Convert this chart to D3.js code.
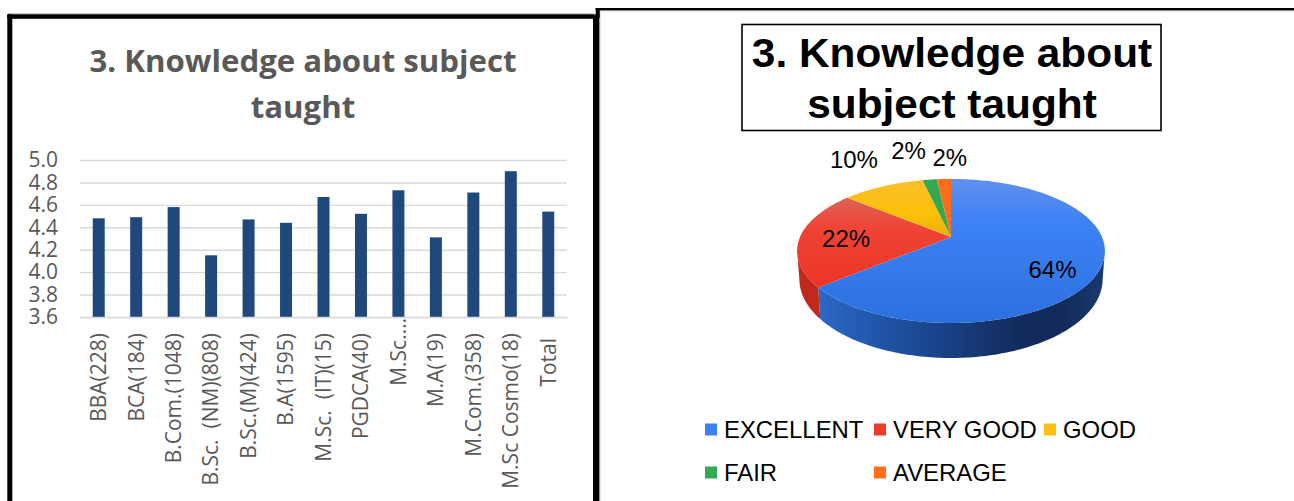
<!DOCTYPE html>
<html>
<head>
<meta charset="utf-8">
<script src="https://d3js.org/d3.v7.min.js"></script>
<style>
  html, body { margin: 0; padding: 0; background: #fff; }
  svg { display: block; }
</style>
</head>
<body>
<div id="chart"></div>
<script>
// bar chart data
var courses = ["BBA(228)", "BCA(184)", "B.Com.(1048)", "B.Sc.\u00a0 (NM)(808)", "B.Sc.(M)(424)", "B.A(1595)",
  "M.Sc.\u00a0 (IT)(15)", "PGDCA(40)", "M.Sc.…", "M.A(19)", "M.Com.(358)", "M.Sc Cosmo(18)", "Total"];
var scores = [4.48, 4.49, 4.58, 4.15, 4.47, 4.44, 4.67, 4.52, 4.73, 4.31, 4.71, 4.90, 4.54];
var scoreTicks = [3.6, 3.8, 4.0, 4.2, 4.4, 4.6, 4.8, 5.0];

// pie chart data
var ratings = ["EXCELLENT", "VERY GOOD", "GOOD", "FAIR", "AVERAGE"];
var shares = [64, 22, 10.4, 1.8, 1.8];

var ratingColors = ["#3b80f5", "#ef3b2d", "#fcc010", "#34a853", "#ff6d1a"];
var wallColors = ["url(#blueWall)", "#c02a1c", "#c99a08", "#26803f", "#c85410"];
var topFills = ["url(#blueTop)", "url(#redTop)", "url(#yellowTop)", "#34a853", "#ff6d1a"];

var barFont = "'Open Sans', sans-serif";
var pieFont = "'Liberation Sans', Arial, sans-serif";

var svg = d3.select("#chart").append("svg")
    .attr("width", 1294)
    .attr("height", 501);

var defs = svg.append("defs");

function gradient(id, horizontal, stops) {
  var g = defs.append("linearGradient")
    .attr("id", id)
    .attr("gradientUnits", "objectBoundingBox")
    .attr("x1", 0).attr("y1", 0)
    .attr("x2", horizontal ? 1 : 0).attr("y2", horizontal ? 0 : 1);
  stops.forEach(function(s) {
    g.append("stop").attr("offset", s[0]).attr("stop-color", s[1]);
  });
}
gradient("blueTop", false, [[0, "#5f90ee"], [0.3, "#3d82f6"], [1, "#2c70de"]]);
gradient("redTop", false, [[0, "#dd6358"], [0.35, "#ef4335"], [1, "#ec3524"]]);
gradient("yellowTop", false, [[0, "#fbbf2c"], [0.6, "#fdbf06"], [1, "#e8ae0c"]]);
gradient("blueWall", true, [[0, "#2b68c6"], [0.35, "#1b4994"], [0.7, "#122b5c"], [0.85, "#122b5c"], [1, "#1a3a70"]]);

// frames around the two panels
function bar(x0, y0, w, h, color) {
  svg.append("rect").attr("x", x0).attr("y", y0).attr("width", w).attr("height", h).attr("fill", color);
}
bar(8, 13.5, 586, 1.2, "#8c8c8c");
bar(7.3, 14.4, 586, 4.4, "#000");
bar(7.3, 14.4, 5, 487, "#000");
bar(593, 14.4, 6.2, 487, "#000");
bar(599.2, 11, 1, 490, "#8c8c8c");
bar(595.7, 8, 699, 2.4, "#000");
bar(595.7, 8, 4, 10, "#000");
bar(600, 10.4, 694, 0.8, "#8c8c8c");

// ---- bar chart ----
var x = d3.scaleBand()
  .domain(courses)
  .range([80, 567])
  .paddingInner(0.68)
  .paddingOuter(0.34);
var y = d3.scaleLinear()
  .domain([3.6, 5.0])
  .range([317, 160]);

var grid = svg.append("g")
  .attr("transform", "translate(80,0)")
  .call(d3.axisLeft(y).tickValues(scoreTicks).tickFormat(d3.format(".1f")).tickSize(-487).tickPadding(22));
grid.select(".domain").remove();
grid.selectAll("line").attr("stroke", "#d9d9d9").attr("stroke-width", 1.4);
grid.selectAll("text")
  .style("font-family", barFont)
  .style("font-size", "21px")
  .attr("fill", "#595959");

svg.selectAll(".bar")
  .data(scores)
  .enter().append("rect")
    .attr("class", "bar")
    .attr("x", function(d, i) { return x(courses[i]); })
    .attr("y", function(d) { return y(d); })
    .attr("width", x.bandwidth())
    .attr("height", function(d) { return y(3.6) - y(d); })
    .attr("fill", "#1f497d");

var xAxis = svg.append("g")
  .attr("transform", "translate(0,317)")
  .call(d3.axisBottom(x).tickSize(0));
xAxis.select(".domain").attr("stroke", "#d9d9d9").attr("stroke-width", 1.4);
xAxis.selectAll("text")
  .style("font-family", barFont)
  .style("font-size", "21px")
  .attr("fill", "#595959")
  .attr("text-anchor", "end")
  .attr("dy", "0.35em")
  .attr("x", 0)
  .attr("y", 0)
  .attr("transform", function(d) {
    var top = 16;
    if (d == "M.Sc.…") top = 1;
    if (d == "Total") top = 21;
    return "translate(0," + top + ") rotate(-90)";
  });

svg.append("text").attr("x", 303).attr("y", 72)
  .attr("text-anchor", "middle")
  .style("font-family", barFont).style("font-weight", "bold").style("font-size", "31.2px")
  .attr("fill", "#595959")
  .text("3. Knowledge about subject");
svg.append("text").attr("x", 303).attr("y", 118)
  .attr("text-anchor", "middle")
  .style("font-family", barFont).style("font-weight", "bold").style("font-size", "31.2px")
  .attr("fill", "#595959")
  .text("taught");

// ---- pie chart ----
svg.append("rect").attr("x", 742).attr("y", 24.5).attr("width", 419).attr("height", 106)
  .attr("fill", "#fff").attr("stroke", "#000").attr("stroke-width", 1.6);
svg.append("text").attr("transform", "translate(952,67) scale(1.06,1)")
  .attr("text-anchor", "middle")
  .style("font-family", pieFont).style("font-weight", "bold").style("font-size", "40px")
  .text("3. Knowledge about");
svg.append("text").attr("transform", "translate(952,118) scale(1.06,1)")
  .attr("text-anchor", "middle")
  .style("font-family", pieFont).style("font-weight", "bold").style("font-size", "40px")
  .text("subject taught");

// tilted disc: the apex sits above the middle of the ellipse
var pieX = 951, pieY = 237, pieWide = 151, pieFar = 69.3, tilt = -0.194, pieDepth = 35;

function rim(angle, r) {
  var u = r * Math.sin(angle), v = -r * Math.cos(angle), w = 1 + tilt * v;
  return [pieX + pieWide * u / w, pieY + pieFar * v / w];
}

var slices = d3.pie().sort(null).value(function(d) { return d; })(shares);
var line = d3.line();
var step = Math.PI / 180;

function arcPoints(a, b) {
  return d3.range(a, b, step).concat([b]).map(function(t) { return rim(t, 1); });
}

// the lower edge of the wall is a slightly smaller, flatter copy of the rim
function lowerEdge(p) {
  var v = (p[1] - pieY) / 86;
  return [pieX + (p[0] - pieX) * 0.985, p[1] + pieDepth * (0.77 + 0.23 * v)];
}

// front wall, only between the two side extremes of the disc
var wallFrom = Math.PI / 2 + Math.asin(-tilt);
var wallTo = 2 * Math.PI - wallFrom;

slices.forEach(function(s, i) {
  var a = Math.max(s.startAngle, wallFrom), b = Math.min(s.endAngle, wallTo);
  if (a >= b) return;
  var edge = arcPoints(a, b);
  var pts = edge.concat(edge.map(lowerEdge).reverse());
  svg.append("path").attr("d", line(pts) + "Z").attr("fill", wallColors[i]);
});

slices.forEach(function(s, i) {
  var pts = [rim(0, 0)].concat(arcPoints(s.startAngle, s.endAngle));
  svg.append("path").attr("d", line(pts) + "Z").attr("fill", topFills[i]);
});

// where each percentage sits: radius on the disc, then a nudge on screen
var labelRadius = [0.7, 0.695, 1, 1, 1];
var labelNudge = [[0, 10], [0, 1], [-29, -27], [-21, -29], [6, -22]];

slices.forEach(function(s, i) {
  var p = rim((s.startAngle + s.endAngle) / 2, labelRadius[i]);
  svg.append("text")
    .attr("x", p[0] + labelNudge[i][0])
    .attr("y", p[1] + labelNudge[i][1])
    .attr("dy", "0.36em")
    .attr("text-anchor", "middle")
    .style("font-family", pieFont).style("font-size", "24px")
    .text(Math.round(s.data) + "%");
});

// legend
var legendX = [705, 874, 1044, 705, 874];
var legendY = [429.5, 429.5, 429.5, 472.5, 472.5];
ratings.forEach(function(r, i) {
  svg.append("rect")
    .attr("x", legendX[i]).attr("y", legendY[i] - 6)
    .attr("width", 12).attr("height", 12)
    .attr("fill", ratingColors[i]);
  svg.append("text")
    .attr("x", legendX[i] + 19).attr("y", legendY[i])
    .attr("dy", "0.36em")
    .style("font-family", pieFont).style("font-size", "23.9px")
    .text(r);
});
</script>
</body>
</html>
